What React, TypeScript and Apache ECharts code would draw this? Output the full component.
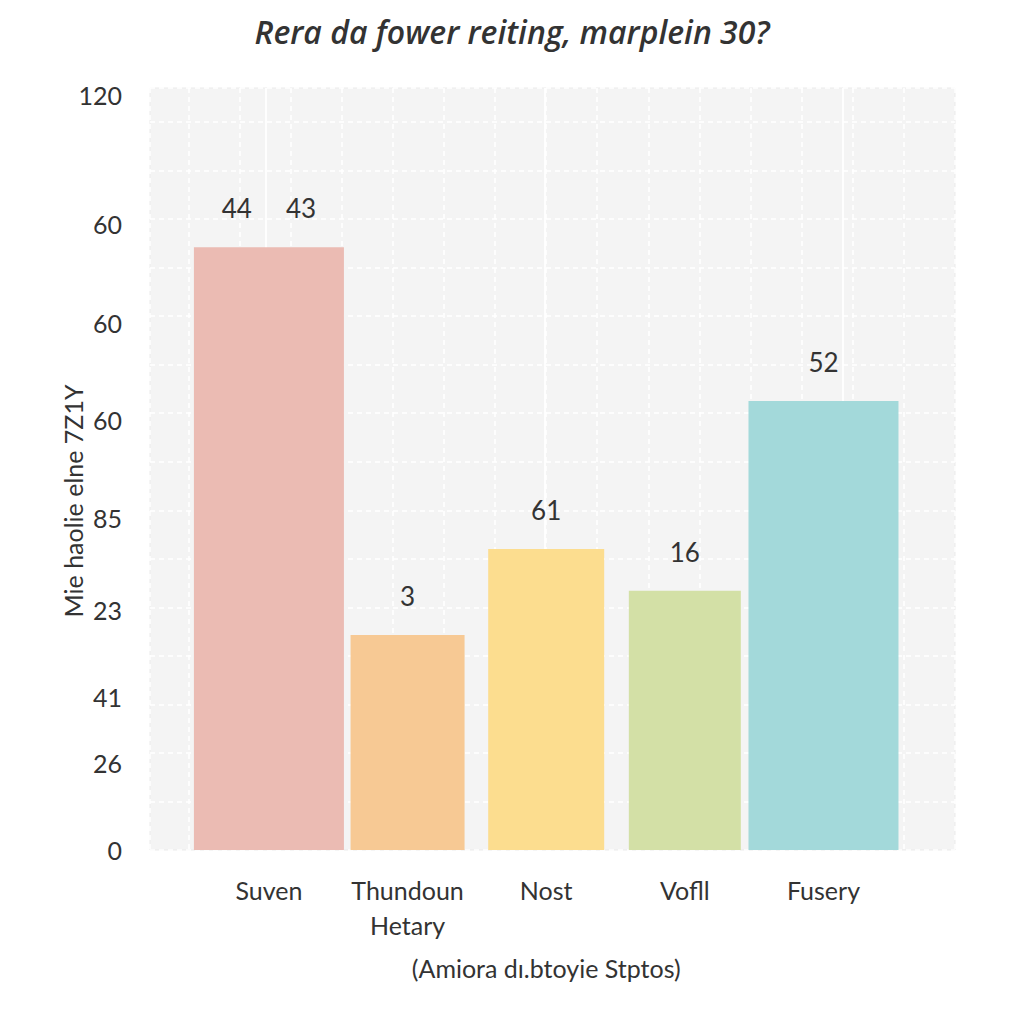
import React, { useEffect, useRef } from "react";
import * as echarts from "echarts";

// ---- data ----
const titleText = "Rera da fower reiting, marplein 30?";
const yAxisTitle = "Mie haolie elne 7Z1Y";
const xAxisTitle = "(Amiora dı.btoyie Stptos)";
const categories = ["Suven", "Thundoun\nHetary", "Nost", "Vofll", "Fusery"];
const barValues = [124.2, 44.3, 62.0, 53.4, 92.5];
const barLabels = ["44{s|}43", "3", "61", "16", "52"];
const yTickValues = [0, 18, 31.5, 49.5, 68.5, 88.5, 108.5, 129, 155.5];
const yTickLabels = ["0", "26", "41", "23", "85", "60", "60", "60", "120"];

// ---- styles ----
const barColors = ["#ebbbb3", "#f7c994", "#fcdd8f", "#d3e0a6", "#a3d9da"];
const barWidths = [150, 114, 116, 112, 150];
const FONT = "Lato, 'Noto Sans', sans-serif";
const TITLE_FONT = "'Open Sans', Lato, sans-serif";
const TEXT = "#333333";
const Y_MAX = 157;
const X_BG_MAX = 157.5;
const highlightLines = [134.8, 80.2, 21.9];

export default function App() {
  const ref = useRef<HTMLDivElement>(null);

  useEffect(() => {
    if (!ref.current) return;
    const chart = echarts.init(ref.current, undefined, { renderer: "svg" });
    const tickMap: Record<string, string> = {};
    yTickValues.forEach((v, i) => {
      tickMap[v.toFixed(1)] = yTickLabels[i];
    });

    const option: any = {
      animation: false,
      backgroundColor: "#ffffff",
      textStyle: { fontFamily: FONT },
      title: {
        text: titleText,
        left: "center",
        top: 10,
        textStyle: {
          fontFamily: TITLE_FONT,
          fontSize: 32,
          fontStyle: "italic",
          fontWeight: 600,
          color: TEXT,
        },
      },
      grid: [
        {
          left: 150,
          right: 69,
          top: 88,
          bottom: 174,
          show: true,
          backgroundColor: "#f4f4f4",
          borderColor: "#ebebeb",
          borderWidth: 1,
        },
        { left: 199.6, right: 131.2, top: 88, bottom: 174 },
      ],
      xAxis: [
        {
          gridIndex: 0,
          type: "value",
          inverse: true,
          min: 0,
          max: X_BG_MAX,
          interval: 10,
          axisLabel: { show: false },
          axisLine: { show: false },
          axisTick: { show: false },
          splitLine: {
            show: true,
            lineStyle: { color: "#ffffff", width: 1.5, type: [5, 4] },
          },
        },
        {
          gridIndex: 1,
          type: "category",
          data: categories,
          axisLine: { show: false },
          axisTick: { show: false },
          axisLabel: {
            interval: 0,
            margin: 22,
            fontFamily: FONT,
            fontSize: 25,
            color: TEXT,
            lineHeight: 35,
          },
          name: xAxisTitle,
          nameLocation: "middle",
          nameGap: 105,
          nameTextStyle: { fontFamily: FONT, fontSize: 25, color: TEXT },
        },
      ],
      yAxis: [
        {
          gridIndex: 0,
          type: "value",
          position: "left",
          min: 0,
          max: Y_MAX,
          interval: 10,
          axisLabel: { show: false },
          axisLine: { show: false },
          axisTick: { show: false },
          splitLine: {
            show: true,
            lineStyle: { color: "#ffffff", width: 1.5, type: [5, 4] },
          },
        },
        {
          gridIndex: 0,
          type: "value",
          position: "left",
          min: 0,
          max: Y_MAX,
          interval: 0.5,
          axisLine: { show: false },
          axisTick: { show: false },
          splitLine: { show: false },
          axisLabel: {
            margin: 28,
            fontFamily: FONT,
            fontSize: 25,
            color: TEXT,
            formatter: (v: number) => tickMap[v.toFixed(1)] ?? "",
          },
        },
        {
          gridIndex: 1,
          type: "value",
          min: 0,
          max: Y_MAX,
          show: false,
          splitLine: { show: false },
        },
      ],
      graphic: [
        {
          type: "text",
          x: 73,
          y: 501,
          rotation: Math.PI / 2,
          style: {
            text: yAxisTitle,
            fontFamily: FONT,
            fontSize: 25,
            fill: TEXT,
            align: "center",
            verticalAlign: "middle",
          },
        },
      ],
      series: [
        {
          type: "line",
          xAxisIndex: 0,
          yAxisIndex: 0,
          data: [],
          silent: true,
          z: 1,
          markLine: {
            silent: true,
            symbol: "none",
            z: 1,
            label: { show: false },
            lineStyle: { color: "#ffffff", width: 2, type: "solid", opacity: 0.9 },
            data: highlightLines.map((x) => ({ xAxis: x })),
          },
        },
        {
          type: "custom",
          xAxisIndex: 1,
          yAxisIndex: 2,
          z: 10,
          data: barValues.map((v, i) => [i, v]),
          encode: { x: 0, y: 1 },
          renderItem: (params: any, api: any) => {
            const idx = api.value(0);
            const v = api.value(1);
            const top = api.coord([idx, v]);
            const base = api.coord([idx, 0]);
            const w = barWidths[idx];
            return {
              type: "group",
              children: [
                {
                  type: "rect",
                  shape: { x: top[0] - w / 2, y: top[1], width: w, height: base[1] - top[1] },
                  style: { fill: barColors[idx] },
                },
                {
                  type: "text",
                  x: top[0],
                  y: top[1] - 26,
                  style: {
                    text: barLabels[idx],
                    fontFamily: FONT,
                    fontSize: 26,
                    fill: TEXT,
                    align: "center",
                    verticalAlign: "bottom",
                    rich: { s: { width: 34 } },
                  },
                },
              ],
            };
          },
        },
      ],
    };

    chart.setOption(option);
    return () => chart.dispose();
  }, []);

  return (
    <div
      ref={ref}
      style={{ position: "fixed", left: 0, top: 0, width: 1024, height: 1024 }}
    />
  );
}
